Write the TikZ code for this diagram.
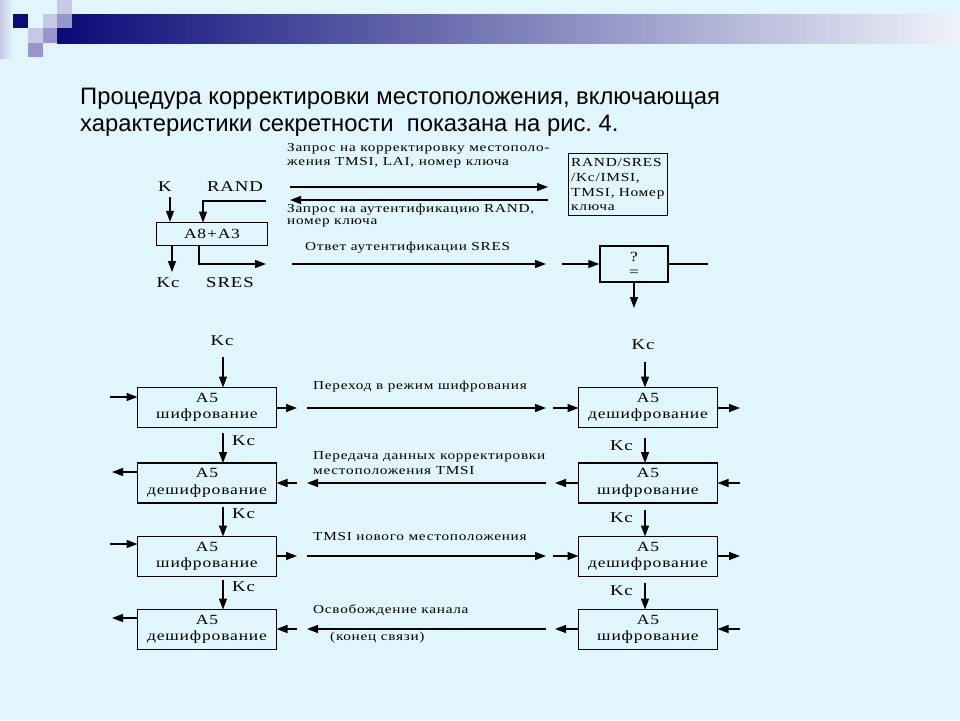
\documentclass[tikz,border=0pt]{standalone}
\usepackage{fontspec}
\setmainfont{Liberation Serif}
\newfontfamily\titlefont{Liberation Sans}
\newfontfamily\dfont[FakeStretch=1.25,LetterSpace=6]{Liberation Serif}
\usetikzlibrary{arrows.meta,calc}
\definecolor{bg}{RGB}{225,245,253}
\definecolor{navy}{RGB}{10,10,120}
\definecolor{lav1}{RGB}{200,200,230}
\definecolor{lav2}{RGB}{150,150,205}
\definecolor{barend}{RGB}{240,243,250}
\frenchspacing
\begin{document}
\begin{tikzpicture}[x=1pt,y=-1pt,
  box/.style={draw,line width=1.3pt,minimum width=139pt,minimum height=40pt,inner sep=0pt,align=center,font=\dfont\fontsize{14}{16.5}\selectfont},
  msg/.style={anchor=west,inner sep=0pt,font=\dfont\fontsize{12.2}{14}\selectfont},
  big/.style={inner sep=0pt,font=\dfont\fontsize{15}{17}\selectfont},
  arr/.style={line width=1.3pt,-{Triangle[length=11pt,width=8pt]}},
  ln/.style={line width=1.3pt}]
\useasboundingbox (0,0) rectangle (960,720);
\fill[bg] (0,0) rectangle (960,720);
% header
\shade[left color=lav1,right color=bg] (0,0) rectangle (13,58);
\shade[left color=navy,right color=barend] (57,14) rectangle (960,43);
\fill[navy] (13,14) rectangle (28,28);
\fill[lav1] (57,0) rectangle (72,14);
\fill[lav1] (43,14) rectangle (57,28);
\fill[lav2] (57,14) rectangle (72,28);
\fill[lav1] (28,28) rectangle (43,43);
\fill[lav2] (43,28) rectangle (57,43);
\fill[lav2] (28,43) rectangle (43,57);
% title
\node[anchor=base west,inner sep=0pt,font=\titlefont\fontsize{23.8}{28}\selectfont] (t1) at (80,104) {Процедура корректировки местоположения, включающая};
\node[anchor=base west,inner sep=0pt,font=\titlefont\fontsize{23.8}{28}\selectfont] (t2) at (80,131) {характеристики секретности\ \ показана на рис. 4.};
% top-left block
\node[box,minimum width=111pt,minimum height=23pt] (A8) at (212,234) {A8+A3};
\node[big] (K) at (165,187) {K};
\node[big] (RAND) at (235,187) {RAND};
\node[big] (Kc0) at (168,283) {Kc};
\node[big] (SRES) at (230,283) {SRES};
\coordinate (kin) at (170,197);
\coordinate (rin) at (266,201);
\coordinate (kcout) at (172,272);
\coordinate (sout) at (266,264);
\draw[arr] (kin) -- (kin |- A8.north);
\draw[arr] (rin) -- (203,201) -- (203,222.5);
\draw[arr] (kcout |- A8.south) -- (kcout);
\draw[arr] (199,245.5) -- (199,264) -- (sout);
% top messages
\node[msg] (m1a) at (287,149) {Запрос на корректировку местополо-};
\node[msg] (m1b) at (287,163) {жения TMSI, LAI, номер ключа};
\node[msg] (m2a) at (287,210) {Запрос на аутентификацию RAND,};
\node[msg] (m2b) at (287,223) {номер ключа};
\node[msg] (m3) at (305,248) {Ответ аутентификации SRES};
\coordinate (a1s) at (290,187); \coordinate (a1e) at (548,187);
\coordinate (a2s) at (548,200); \coordinate (a2e) at (290,200);
\coordinate (a3s) at (292,264); \coordinate (a3e) at (546,264);
\draw[arr] (a1s) -- (a1e);
\draw[arr] (a2s) -- (a2e);
\draw[arr] (a3s) -- (a3e);
\node[draw,line width=1.3pt,minimum width=99pt,text width=94pt,minimum height=62pt,inner xsep=2pt,inner ysep=2pt,align=left,anchor=north west,font=\dfont\fontsize{12.3}{14.8}\selectfont] (DB) at (568,153) {RAND/SRES\\/Kc/IMSI,\\TMSI, Номер\\ключа};
\node[box,minimum width=68pt,minimum height=36pt,font=\dfont\fontsize{14}{15}\selectfont] (Q) at (634,264) {?\\=};
\coordinate (qin) at (562,264); \coordinate (qout) at (708,264); \coordinate (qdown) at (634,308);
\draw[arr] (qin) -- (Q.west);
\draw[ln] (Q.east) -- (qout);
\draw[arr] (Q.south) -- (qdown);
% lower boxes
\node[box] (L1) at (207,407.5) {A5\\шифрование};
\node[box] (L2) at (207,483) {A5\\дешифрование};
\node[box] (L3) at (207,556.5) {A5\\шифрование};
\node[box] (L4) at (207,629.5) {A5\\дешифрование};
\node[box] (R1) at (648,407.5) {A5\\дешифрование};
\node[box] (R2) at (648,483) {A5\\шифрование};
\node[box] (R3) at (648,556.5) {A5\\дешифрование};
\node[box] (R4) at (648,629.5) {A5\\шифрование};
% Kc vertical
\node[big] (kL0) at (222,341) {Kc};
\node[big] (kR0) at (643,345) {Kc};
\draw[arr] (223,357) -- (223,387.5);
\draw[arr] (645,362) -- (645,387.5);
\node[big,anchor=west] (kL1) at (232,441) {Kc};
\node[big,anchor=west] (kL2) at (232,514) {Kc};
\node[big,anchor=west] (kL3) at (232,587) {Kc};
\draw[arr] (223,433) -- (223,463);
\draw[arr] (223,507) -- (223,536.5);
\draw[arr] (223,580) -- (223,609.5);
\node[big,anchor=east] (kR1) at (633,446) {Kc};
\node[big,anchor=east] (kR2) at (633,518) {Kc};
\node[big,anchor=east] (kR3) at (633,591) {Kc};
\draw[arr] (645,438) -- (645,463);
\draw[arr] (645,510) -- (645,536.5);
\draw[arr] (645,583) -- (645,609.5);
% row messages
\node[msg] (t1m) at (313,387) {Переход в режим шифрования};
\node[msg] (t2m) at (313,457) {Передача данных корректировки};
\node[msg] (t2n) at (313,471) {местоположения TMSI};
\node[msg] (t3m) at (313,537) {TMSI нового местоположения};
\node[msg] (t4m) at (313,610) {Освобождение канала};
\node[msg] (t4n) at (330,638) {(конец связи)};
% row 1
\draw[arr] (110,397) -- (137.5,397);
\draw[arr] (276.5,408) -- (297,408);
\draw[arr] (307,408) -- (546,408);
\draw[arr] (553,408) -- (578.5,408);
\draw[arr] (717.5,408) -- (740,408);
% row 2
\draw[arr] (740,483) -- (717.5,483);
\draw[arr] (578.5,483) -- (555,483);
\draw[arr] (546,483) -- (307,483);
\draw[arr] (297,483) -- (276.5,483);
\draw[arr] (137.5,472) -- (112,472);
% row 3
\draw[arr] (110,544) -- (137.5,544);
\draw[arr] (276.5,556) -- (297,556);
\draw[arr] (307,556) -- (546,556);
\draw[arr] (553,556) -- (578.5,556);
\draw[arr] (717.5,556) -- (740,556);
% row 4
\draw[arr] (740,629) -- (717.5,629);
\draw[arr] (578.5,629) -- (555,629);
\draw[arr] (546,629) -- (307,629);
\draw[arr] (297,629) -- (276.5,629);
\draw[arr] (137.5,618) -- (112,618);
\end{tikzpicture}
\end{document}
